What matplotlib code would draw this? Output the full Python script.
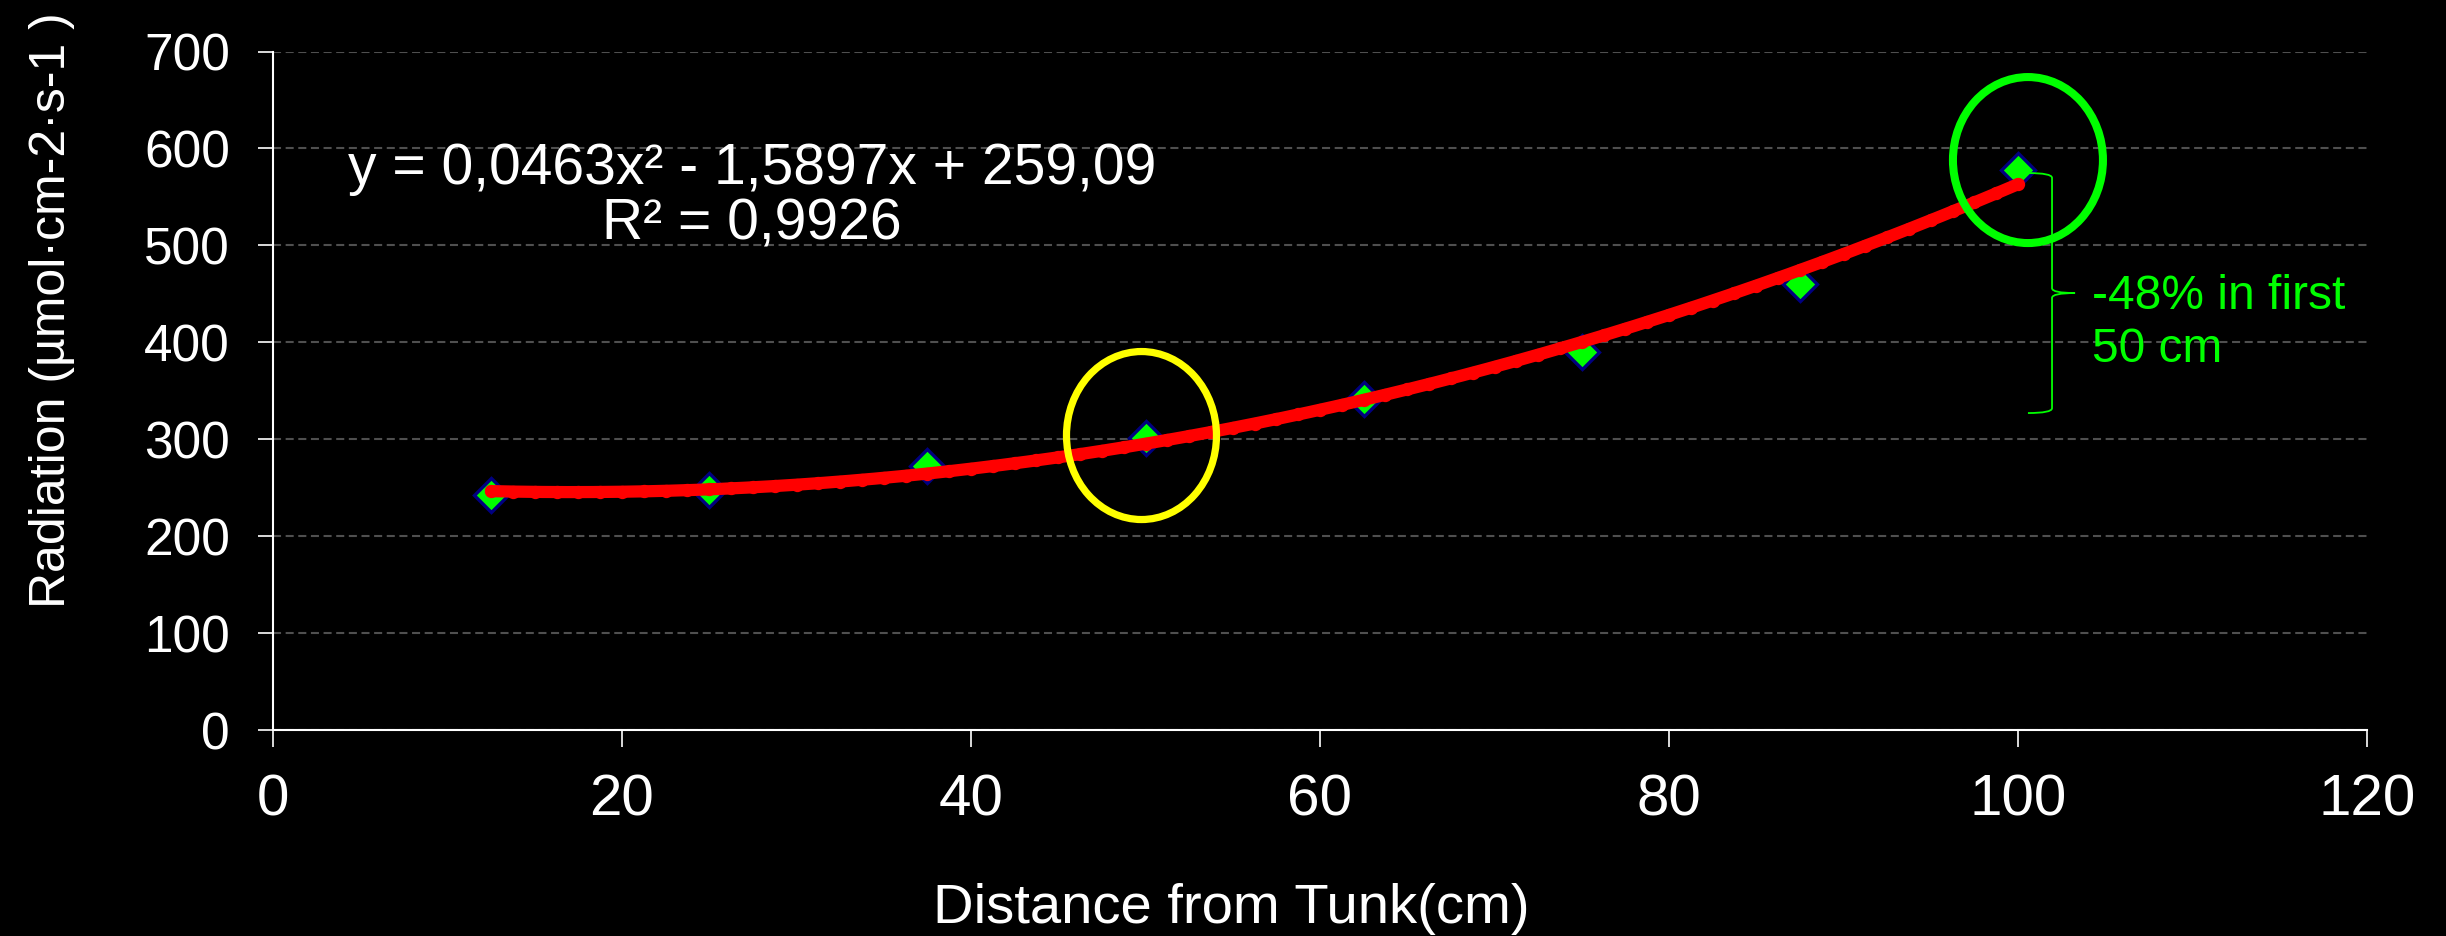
import numpy as np
import matplotlib
matplotlib.use("Agg")
import matplotlib.pyplot as plt
from matplotlib.patches import Ellipse, PathPatch
from matplotlib.path import Path

plt.rcParams['font.family'] = ['Liberation Sans', 'DejaVu Sans']
plt.rcParams['lines.scale_dashes'] = False

# ---- data ----
distance = [12.5, 25, 37.5, 50, 62.5, 75, 87.5, 100]
radiation = [242, 248, 272, 301, 341, 390, 460, 578]
fit_coeffs = [0.0463, -1.5897, 259.09]   # trend-line equation shown on the chart
x_ticks = [0, 20, 40, 60, 80, 100, 120]
y_ticks = [0, 100, 200, 300, 400, 500, 600, 700]
equation_text = "y = 0,0463x² - 1,5897x + 259,09\nR² = 0,9926"
note_text = "-48% in first\n50 cm"
x_label = "Distance from Tunk(cm)"
y_label = "Radiation (µmol·cm-2·s-1 )"

W, H = 2446, 936
fig = plt.figure(figsize=(W / 100, H / 100), dpi=100, facecolor='black')
ax = fig.add_axes([273 / W, (H - 730) / H, 2094 / W, 678.5 / H])
ax.set_facecolor('black')

ax.set_xlim(0, 120)
ax.set_ylim(0, 700)
ax.set_xticks(x_ticks)
ax.set_yticks(y_ticks)

# grid
ax.set_axisbelow(True)
ax.yaxis.grid(True, color='#4f4f4f', linewidth=1.5, linestyle=(0, (5.8, 3.3)))
ax.xaxis.grid(False)

for s in ['top', 'right']:
    ax.spines[s].set_visible(False)
for s in ['left', 'bottom']:
    ax.spines[s].set_color('white')
    ax.spines[s].set_linewidth(1.5)

ax.tick_params(axis='x', colors='white', labelsize=42, length=12.5, width=1.2, pad=19, direction='out')
ax.tick_params(axis='y', colors='white', labelsize=37, length=11, width=1.2, pad=20, direction='out')

# data points
ax.plot(distance, radiation, linestyle='none', marker='D', markersize=17,
        markerfacecolor='#00ff00', markeredgecolor='#000080', markeredgewidth=2.4, zorder=3)

# trend line
xt = np.linspace(distance[0], distance[-1], 300)
yt = np.polyval(fit_coeffs, xt)
ax.plot(xt, yt, color='#ff0000', linewidth=8.8, solid_capstyle='round', zorder=4)
xb = np.arange(distance[0], distance[-1] + 0.01, 1.25)
ax.plot(xb, np.polyval(fit_coeffs, xb), linestyle='none', marker='o', markersize=9.6,
        markerfacecolor='#ff0000', markeredgewidth=0, zorder=4)

# ellipses
ax.add_patch(Ellipse((49.77, 303.8), 150 / 17.45, 168 / 0.9693, fill=False,
                     edgecolor='#ffff00', linewidth=5.2, zorder=5))
ax.add_patch(Ellipse((100.57, 588.0), 150 / 17.45, 166 / 0.9693, fill=False,
                     edgecolor='#00ff00', linewidth=5.8, zorder=5))

# brace
sx, tipx, midx = 101.95, 100.57, 103.27
top, mid, bot = 574.6, 450.8, 327.0
verts = [(tipx, top), (sx, top), (sx, top - 5),
         (sx, mid + 5), (sx, mid), (midx, mid),
         (sx, mid), (sx, mid - 5),
         (sx, bot + 5), (sx, bot), (tipx, bot)]
codes = [Path.MOVETO, Path.CURVE3, Path.CURVE3,
         Path.LINETO, Path.CURVE3, Path.CURVE3,
         Path.CURVE3, Path.CURVE3,
         Path.LINETO, Path.CURVE3, Path.CURVE3]
ax.add_patch(PathPatch(Path(verts, codes), fill=False, edgecolor='#00ff00', linewidth=1.3, zorder=5))

# texts
ax.text(0.2287, 0.786, equation_text, transform=ax.transAxes, color='white',
        fontsize=41, ha='center', va='center', multialignment='center', linespacing=1.05)
ax.text(0.8685, 0.600, note_text, transform=ax.transAxes, color='#00ff00',
        fontsize=34.5, ha='left', va='center', linespacing=1.25)

ax.set_xlabel(x_label, color='white', fontsize=40.5)
ax.xaxis.set_label_coords(0.4575, -0.226)
ax.set_ylabel(y_label, color='white', fontsize=36)
ax.yaxis.set_label_coords(-0.0946, 0.619)

fig.savefig('out.png', dpi=100, facecolor='black')
